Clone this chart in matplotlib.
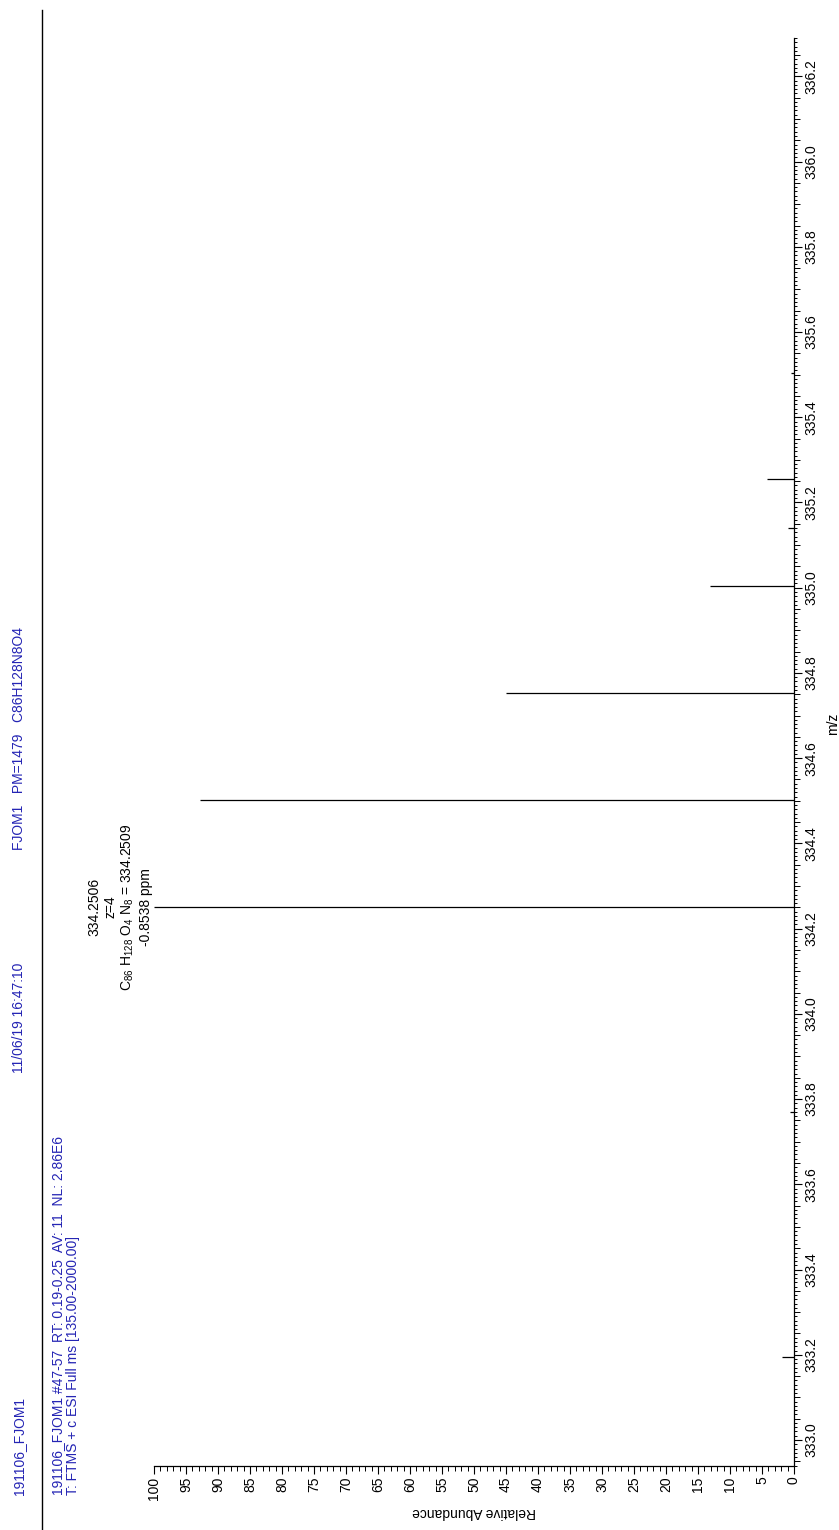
import matplotlib
matplotlib.use("Agg")
import matplotlib.pyplot as plt
from matplotlib.lines import Line2D
from matplotlib.ticker import MultipleLocator, FormatStrFormatter

plt.rcParams["font.family"] = ["Liberation Sans", "DejaVu Sans"]
plt.rcParams["mathtext.fontset"] = "custom"
plt.rcParams["mathtext.rm"] = "Liberation Sans"

# peak list (m/z, relative abundance %)
mz = [333.195, 333.77, 334.2506, 334.5014, 334.7522, 335.003, 335.14, 335.255, 335.505]
rel_abund = [1.9, 0.6, 100.0, 92.8, 45.0, 13.1, 1.0, 4.2, 0.5]

header_line1 = ["191106_FJOM1", "11/06/19 16:47:10", "FJOM1   PM=1479   C86H128N8O4"]
scan_info = ["191106_FJOM1 #47-57  RT: 0.19-0.25  AV: 11  NL: 2.86E6",
             "T: FTMS + c ESI Full ms [135.00-2000.00]"]
peak_label = ["334.2506", "z=4",
              r"C$_\mathrm{86}$ H$_\mathrm{128}$ O$_\mathrm{4}$ N$_\mathrm{8}$ = 334.2509",
              "-0.8538 ppm"]

W, H = 839, 1530
fig = plt.figure(figsize=(W / 100, H / 100), dpi=100)

def fx(px):
    return px / W

def fy(py):
    return (H - py) / H

blue = "#2424b4"

# header (page is rotated: text runs bottom -> top)
for s, y in zip(header_line1, [1495, 1073, 850]):
    fig.text(fx(19), fy(y), s, rotation=90, ha="center", va="bottom",
             color=blue, fontsize=10)
for s, x in zip(scan_info, [58, 73]):
    fig.text(fx(x), fy(1495), s, rotation=90, ha="center", va="bottom",
             color=blue, fontsize=10)
fig.add_artist(Line2D([fx(42), fx(42)], [fy(1530), fy(10)],
                      color="black", lw=1.0, transform=fig.transFigure))

# spectrum axes: intensity horizontal (100 left, 0 right), m/z vertical
ax = fig.add_axes([fx(154), fy(1466), fx(794) - fx(154), fy(38) - fy(1466)])
ax.hlines(mz, 0, rel_abund, color="black", lw=0.9)
ax.set_xlim(100, 0)
ax.set_ylim(332.939, 336.29)

for side in ["left", "top"]:
    ax.spines[side].set_visible(False)
for side in ["right", "bottom"]:
    ax.spines[side].set_linewidth(0.9)

ax.yaxis.tick_right()
ax.yaxis.set_label_position("right")
ax.yaxis.set_major_locator(MultipleLocator(0.2))
ax.yaxis.set_minor_locator(MultipleLocator(0.01))
ax.xaxis.set_major_locator(MultipleLocator(5))
ax.xaxis.set_minor_locator(MultipleLocator(1))
ax.yaxis.set_major_formatter(FormatStrFormatter("%.1f"))

ax.tick_params(which="major", length=5.5, width=0.8, direction="out", labelsize=10, pad=2)
ax.tick_params(which="minor", length=2.5, width=0.7, direction="out")
ax.tick_params(axis="x", which="minor", length=3.5)
for lab in ax.get_yticklabels():
    lab.set_rotation(90)
    lab.set_va("center")
for lab in ax.get_xticklabels():
    lab.set_rotation(90)

# medium ticks every 0.05 on the m/z axis
locs = ax.yaxis.get_minorticklocs()
for loc, t in zip(locs, ax.yaxis.get_minor_ticks(len(locs))):
    if abs(loc / 0.05 - round(loc / 0.05)) < 1e-3:
        t.tick2line.set_markersize(4.0)

ax.set_xlabel("Relative Abundance", fontsize=10, rotation=180, labelpad=4)
ax.set_ylabel("m/z", fontsize=10, rotation=90, labelpad=2)
ax.yaxis.set_label_coords(1.05, 0.52)

# label on the base peak
top = rel_abund.index(max(rel_abund))
ax.annotate("\n".join(peak_label), xy=(rel_abund[top], mz[top]),
            xytext=(-1, 0), textcoords="offset points", rotation=90,
            ha="right", va="center", multialignment="center",
            fontsize=10, linespacing=1.2)

fig.savefig("out.png", dpi=100)
